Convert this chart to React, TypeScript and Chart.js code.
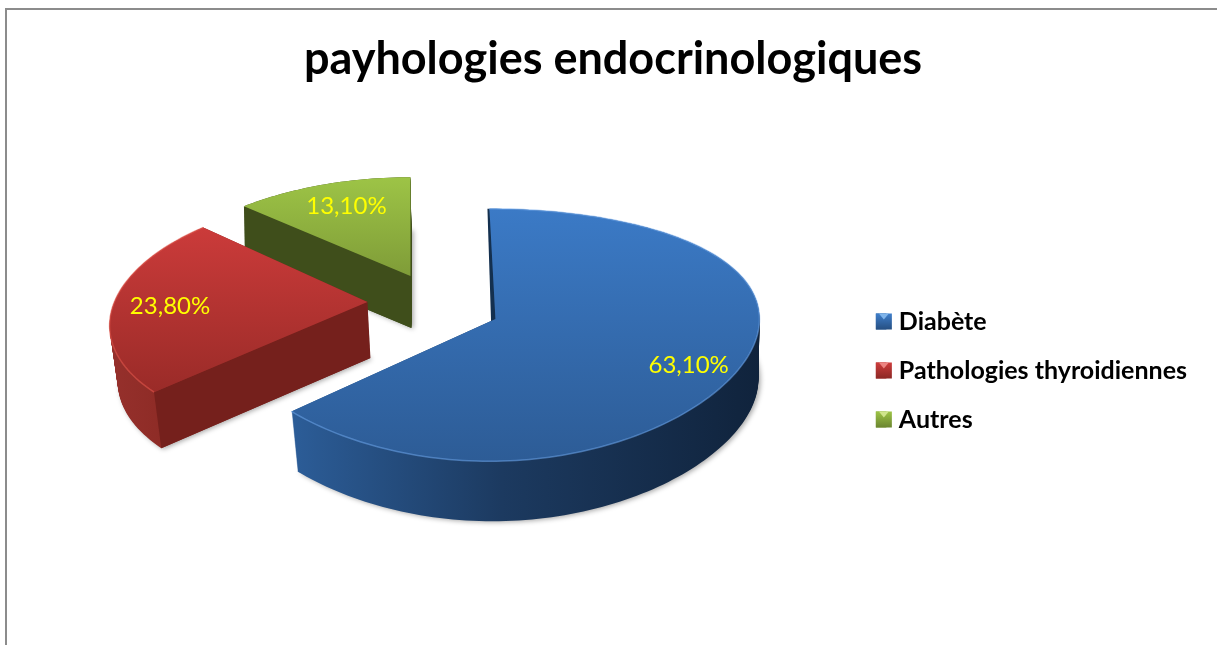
import React, { useEffect, useRef } from "react";
import { Chart, registerables } from "chart.js";

Chart.register(...registerables);

const titleText = "payhologies endocrinologiques";
const categories = ["Diabète", "Pathologies thyroidiennes", "Autres"];
const seriesValues = [63.1, 23.8, 13.1];
const legendColors = ["#30609c", "#ab3230", "#86a53c"];

// Appearance of the tilted, exploded slices (relative to the centre of each Chart.js arc)
const sliceViews = [
  { ox: 55, oy: -47, ex: -6, rx: 0.968, ry: 0.445, q: 0, p: 0.127, depth: 60, shrink: 0.985, sideDx: 3,
    top: ["#3b7ac6", "#2d5c96"], side: ["#2c5d98", "#1c3a60", "#10233c"], cut: null, edge: "rgba(110,165,235,0.55)",
    label: 0.8, labelDy: 5 },
  { ox: -73, oy: -64, ex: 0, rx: 0.907, ry: 0.43, q: 0.192, p: 0.14, depth: 56, shrink: 0.98, sideDx: 3,
    top: ["#cb3b3a", "#9a2b28"], side: ["#96302c", "#84261f", "#75201c"], cut: "#75201c", edge: "rgba(225,85,75,0.6)",
    label: 0.78, labelDy: 4 },
  { ox: -30, oy: -90, ex: 0, rx: 0.92, ry: 0.399, q: 0.192, p: 0.127, depth: 52, shrink: 1, sideDx: 1,
    top: ["#9dc446", "#7f9c38"], side: ["#3f4e1b", "#3f4e1b", "#3f4e1b"], cut: "#3f4e1b", edge: "rgba(0,0,0,0)",
    label: 0.7, labelDy: -4 },
];
const bevelColors = [
  ["#3f7fcb", "#264f82", "#7fb4ea"],
  ["#cd3d3c", "#8c2825", "#ec8582"],
  ["#9dc446", "#6b8530", "#d0e58c"],
];
const legendShift = 48;

function project(arc: any, s: any, theta: number, r: number, t: number) {
  const R = arc.outerRadius;
  const X = r * Math.sin(theta);
  const Y = -r * Math.cos(theta);
  const k = 1 - (1 - s.shrink) * t;
  return {
    x: arc.x + s.ox + s.ex * r + (s.sideDx * t) + (k * R * s.rx * X) / (1 - s.q * Y),
    y: arc.y + s.oy + s.depth * t + (R * s.ry * Y) / (1 - s.p * Y),
  };
}

function slicePoints(arc: any, s: any, t: number) {
  const start = arc.startAngle + Math.PI / 2;
  const end = arc.endAngle + Math.PI / 2;
  const steps = Math.ceil((end - start) * 40);
  const pts = [];
  for (let i = 0; i <= steps; i++) pts.push(project(arc, s, start + ((end - start) * i) / steps, 1, t));
  return pts;
}

function fillSlice(ctx: CanvasRenderingContext2D, apex: any, pts: any[]) {
  ctx.beginPath();
  ctx.moveTo(apex.x, apex.y);
  pts.forEach((p) => ctx.lineTo(p.x, p.y));
  ctx.closePath();
  ctx.fill();
}

const pie3d = {
  id: "pie3d",
  afterLayout(chart: any) {
    const l = chart.legend;
    if (l) {
      l.top += legendShift;
      l.bottom += legendShift;
      l.legendHitBoxes.forEach((b: any) => {
        b.top += legendShift;
      });
    }
  },
  beforeDatasetsDraw(chart: any) {
    const ctx: CanvasRenderingContext2D = chart.ctx;
    const arcs = chart.getDatasetMeta(0).data;
    const order = [2, 1, 0];
    order.forEach((i) => {
      const arc = arcs[i];
      const s = sliceViews[i];
      const top = slicePoints(arc, s, 0);
      const apexTop = project(arc, s, 0, 0, 0);
      const xs = top.map((p) => p.x).concat(apexTop.x);
      const ys = top.map((p) => p.y).concat(apexTop.y);
      const minX = Math.min(...xs);
      const maxX = Math.max(...xs);
      const minY = Math.min(...ys);
      const maxY = Math.max(...ys);
      const side = ctx.createLinearGradient(minX, 0, maxX, 0);
      side.addColorStop(0, s.side[0]);
      side.addColorStop(0.45, s.side[1]);
      side.addColorStop(1, s.side[2]);
      ctx.save();
      ctx.fillStyle = side;
      // soft shadow under the body
      ctx.shadowColor = "rgba(0,0,0,0.35)";
      ctx.shadowBlur = 5;
      ctx.shadowOffsetX = 2;
      ctx.shadowOffsetY = 1;
      fillSlice(ctx, project(arc, s, 0, 0, 1), slicePoints(arc, s, 1));
      ctx.shadowColor = "transparent";
      for (let d = s.depth - 1; d >= 0; d--) {
        const t = d / s.depth;
        fillSlice(ctx, project(arc, s, 0, 0, t), slicePoints(arc, s, t));
      }
      if (s.cut) {
        const a0 = project(arc, s, 0, 0, 0);
        const a1 = project(arc, s, 0, 0, 1);
        const st = arc.startAngle + Math.PI / 2;
        const p0 = project(arc, s, st, 1, 0);
        const p1 = project(arc, s, st, 1, 1);
        ctx.fillStyle = s.cut;
        ctx.beginPath();
        ctx.moveTo(a0.x, a0.y);
        ctx.lineTo(p0.x, p0.y);
        ctx.lineTo(p1.x, p1.y);
        ctx.lineTo(a1.x, a1.y);
        ctx.closePath();
        ctx.fill();
      }
      if (s.ex !== 0) {
        // inner wall visible along the first radial edge
        const st = arc.startAngle + Math.PI / 2;
        const p0 = project(arc, s, st, 1, 0);
        ctx.fillStyle = "#14304f";
        ctx.beginPath();
        ctx.moveTo(p0.x - 2, p0.y);
        ctx.lineTo(p0.x, p0.y);
        ctx.lineTo(apexTop.x, apexTop.y);
        ctx.lineTo(apexTop.x - 4, apexTop.y + 14);
        ctx.closePath();
        ctx.fill();
      }
      const grad = ctx.createLinearGradient(0, minY, 0, maxY);
      grad.addColorStop(0, s.top[0]);
      grad.addColorStop(1, s.top[1]);
      ctx.fillStyle = grad;
      fillSlice(ctx, apexTop, top);
      ctx.strokeStyle = s.edge;
      ctx.lineWidth = 1.5;
      ctx.beginPath();
      top.forEach((p, n) => (n ? ctx.lineTo(p.x, p.y) : ctx.moveTo(p.x, p.y)));
      ctx.stroke();
      ctx.restore();
    });
    // value labels
    ctx.save();
    ctx.fillStyle = "#ffff00";
    ctx.font = '24px "Lato"';
    ctx.textAlign = "center";
    ctx.textBaseline = "middle";
    arcs.forEach((arc: any, i: number) => {
      const s = sliceViews[i];
      const mid = (arc.startAngle + arc.endAngle) / 2 + Math.PI / 2;
      const p = project(arc, s, mid, s.label, 0);
      ctx.fillText(seriesValues[i].toFixed(2).replace(".", ",") + "%", p.x, p.y + s.labelDy);
    });
    ctx.restore();
    return false;
  },
  afterDraw(chart: any) {
    const ctx: CanvasRenderingContext2D = chart.ctx;
    (chart.legend?.legendHitBoxes || []).forEach((b: any, i: number) => {
      const size = 16;
      const x = b.left;
      const y = b.top + (b.height - size) / 2;
      const g = ctx.createLinearGradient(0, y, 0, y + size);
      g.addColorStop(0, bevelColors[i][0]);
      g.addColorStop(1, bevelColors[i][1]);
      ctx.save();
      ctx.fillStyle = g;
      ctx.fillRect(x, y, size, size);
      ctx.fillStyle = bevelColors[i][2];
      ctx.beginPath();
      ctx.moveTo(x + 3, y);
      ctx.lineTo(x + size - 3, y);
      ctx.lineTo(x + size / 2, y + 6);
      ctx.closePath();
      ctx.fill();
      ctx.restore();
    });
  },
};

export default function App() {
  const ref = useRef<HTMLCanvasElement>(null);
  useEffect(() => {
    const chart = new Chart(ref.current!, {
      type: "pie",
      data: {
        labels: categories,
        datasets: [{ data: seriesValues, backgroundColor: legendColors, borderWidth: 0 }],
      },
      options: {
        responsive: false,
        animation: false,
        layout: { padding: { left: 29, right: 20 } },
        plugins: {
          tooltip: { enabled: false },
          title: {
            display: true,
            text: titleText,
            color: "#000000",
            font: { family: "Lato", size: 45, weight: "bold" },
            padding: { top: 32, bottom: 1 },
          },
          legend: {
            position: "right",
            labels: {
              boxWidth: 10.5,
              boxHeight: 16,
              padding: 24,
              color: "#000000",
              font: { family: "Lato", size: 25, weight: "bold" },
            },
          },
        },
      },
      plugins: [pie3d],
    } as any);
    return () => chart.destroy();
  }, []);
  return (
    <div style={{ position: "fixed", left: 0, top: 0, width: 1217, height: 645, overflow: "hidden", background: "#fff" }}>
      <div
        style={{
          position: "absolute",
          left: 5,
          top: 8,
          width: 1300,
          height: 700,
          borderTop: "2px solid #8c8c8c",
          borderLeft: "2px solid #8c8c8c",
        }}
      />
      <canvas ref={ref} width={1217} height={645} style={{ position: "absolute", left: 0, top: 0 }} />
    </div>
  );
}
